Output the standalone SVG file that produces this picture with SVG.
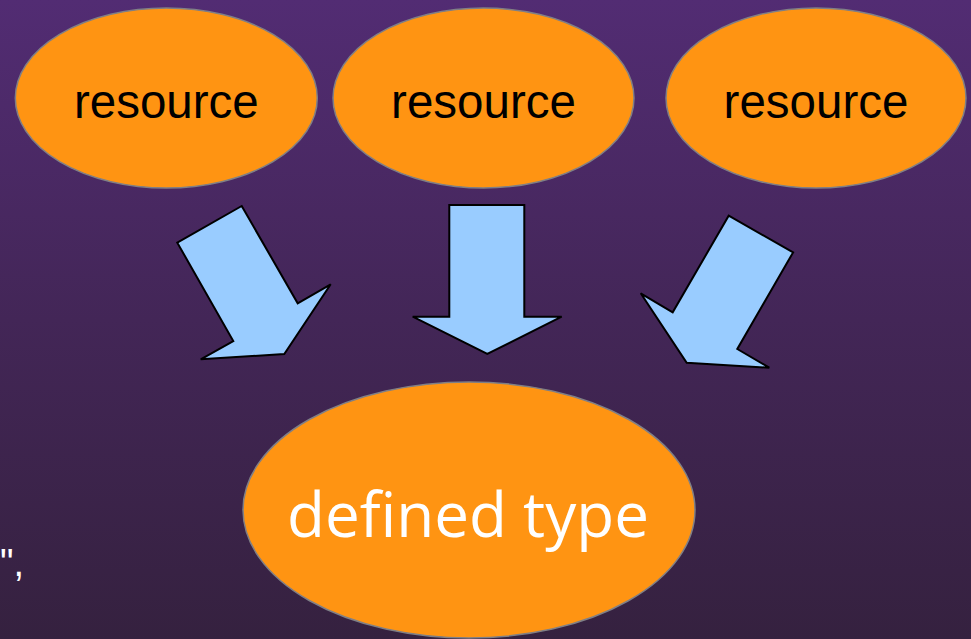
<svg xmlns="http://www.w3.org/2000/svg" width="971" height="639" viewBox="0 0 971 639">
<defs>
<linearGradient id="bg" x1="0" y1="0" x2="0" y2="1">
<stop offset="0" stop-color="#522c73"/>
<stop offset="0.5" stop-color="#432657"/>
<stop offset="1" stop-color="#35213f"/>
</linearGradient>
<style>
.node ellipse{fill:#ff9412;stroke:#7f7f86;stroke-width:1.5}
.res{font-family:"Liberation Sans",Arial,sans-serif;font-size:47.5px;fill:#000;text-anchor:middle}
.def{font-family:"Open Sans","Noto Sans",sans-serif;font-size:62px;fill:#fff;text-anchor:middle}
.arrow{fill:#99ccff;stroke:#000;stroke-width:2;stroke-linejoin:miter}
</style>
</defs>
<rect width="971" height="639" fill="url(#bg)"/>
<g id="connectors">
<polygon class="arrow" points="241.7,206 297.7,303.3 330.7,284.3 284.3,354 200.7,359.3 233.3,341 177.3,242.7"/>
<polygon class="arrow" points="449.3,205 524.3,205 524.3,316.7 561.7,316.7 487.3,354 412.7,316.7 449.3,316.7"/>
<polygon class="arrow" points="728.7,215.7 793.1,252.4 737.3,349 769.3,367.7 686.7,362.7 640.7,293.3 672.7,312.3"/>
</g>
<g id="resource1" class="node">
<ellipse cx="166.3" cy="98" rx="151" ry="90"/>
<text class="res" x="166.3" y="117.5">resource</text>
</g>
<g id="resource2" class="node">
<ellipse cx="483.5" cy="98" rx="150.5" ry="90"/>
<text class="res" x="483.5" y="117.5">resource</text>
</g>
<g id="resource3" class="node">
<ellipse cx="816" cy="98" rx="150" ry="90"/>
<text class="res" x="816" y="117.5">resource</text>
</g>
<g id="definedtype" class="node">
<ellipse cx="469" cy="510" rx="226" ry="128"/>
<text class="def" x="468" y="537">defined type</text>
</g>
<text x="0" y="576" font-family="Liberation Sans, Arial, sans-serif" font-size="38" fill="#fff">",</text>
</svg>
